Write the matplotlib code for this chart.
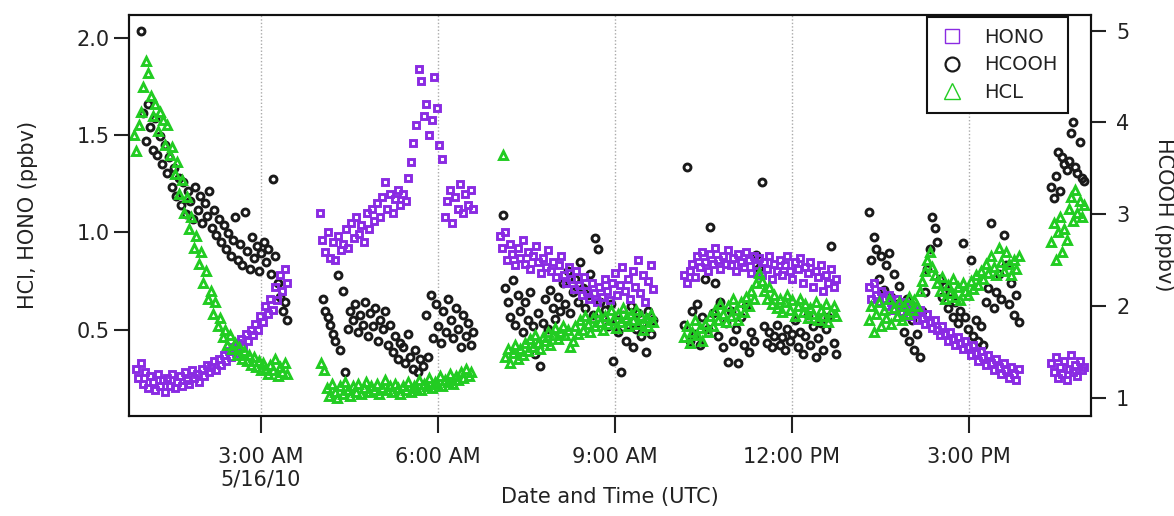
import numpy as np
import matplotlib
matplotlib.use('Agg')
import matplotlib.pyplot as plt
from matplotlib.lines import Line2D

plt.rcParams['font.family'] = ['DejaVu Sans']

# ---------------- data (hours UTC on 5/16/10) ----------------
# each series was sampled in six periods; (start, end) in hours
hono_spans = [(0.88, 3.45), (4.00, 6.60), (7.05, 9.65), (10.18, 12.75), (13.30, 15.85), (16.40, 16.95)]
hcooh_spans = [(0.97, 3.45), (4.05, 6.60), (7.10, 9.65), (10.18, 12.75), (13.30, 15.85), (16.40, 16.95)]
hcl_spans = [(0.85, 3.45), (4.03, 6.57), (7.10, 9.65), (10.18, 12.75), (13.30, 15.85), (16.40, 16.95)]

hono_vals = [
    [0.30, 0.25, 0.33, 0.22, 0.28, 0.20, 0.26, 0.23, 0.19, 0.27, 0.21, 0.24, 0.18, 0.25,
     0.21, 0.27, 0.20, 0.23, 0.26, 0.21, 0.28, 0.24, 0.22, 0.29, 0.25, 0.27, 0.23, 0.30,
     0.26, 0.32, 0.28, 0.31, 0.34, 0.29, 0.35, 0.32, 0.37, 0.34, 0.39, 0.36, 0.41, 0.38,
     0.43, 0.45, 0.41, 0.48, 0.44, 0.50, 0.47, 0.53, 0.50, 0.57, 0.54, 0.62, 0.58, 0.66,
     0.60, 0.72, 0.65, 0.78, 0.70, 0.81, 0.74],
    [1.10, 0.96, 0.90, 1.00, 0.87, 0.95, 0.86, 0.98, 0.91, 0.94, 1.02, 0.92, 1.05, 0.97,
     1.08, 0.99, 1.04, 0.95, 1.10, 1.02, 1.12, 1.06, 1.15, 1.08, 1.18, 1.26, 1.12, 1.20,
     1.10, 1.17, 1.22, 1.14, 1.20, 1.16, 1.28, 1.36, 1.46, 1.55, 1.84, 1.78, 1.60, 1.66,
     1.50, 1.58, 1.80, 1.64, 1.45, 1.38, 1.08, 1.16, 1.22, 1.05, 1.18, 1.12, 1.25, 1.10,
     1.20, 1.14, 1.22, 1.12],
    [0.98, 0.92, 1.00, 0.86, 0.94, 0.89, 0.83, 0.92, 0.87, 0.96, 0.84, 0.90, 0.81, 0.88,
     0.93, 0.85, 0.79, 0.87, 0.82, 0.91, 0.80, 0.85, 0.77, 0.83, 0.88, 0.78, 0.74, 0.82,
     0.76, 0.71, 0.80, 0.73, 0.68, 0.77, 0.70, 0.66, 0.74, 0.69, 0.64, 0.72, 0.67, 0.76,
     0.70, 0.65, 0.74, 0.79, 0.68, 0.73, 0.82, 0.70, 0.76, 0.66, 0.80, 0.72, 0.86, 0.69,
     0.78, 0.64, 0.75, 0.83, 0.71],
    [0.78, 0.74, 0.80, 0.84, 0.77, 0.88, 0.82, 0.90, 0.85, 0.80, 0.89, 0.84, 0.92, 0.86,
     0.81, 0.88, 0.84, 0.91, 0.83, 0.87, 0.80, 0.89, 0.85, 0.82, 0.90, 0.86, 0.79, 0.88,
     0.83, 0.87, 0.78, 0.85, 0.81, 0.88, 0.76, 0.84, 0.80, 0.86, 0.78, 0.83, 0.88, 0.80,
     0.76, 0.85, 0.81, 0.87, 0.74, 0.82, 0.79, 0.85, 0.72, 0.80, 0.77, 0.83, 0.70, 0.78,
     0.74, 0.81, 0.72, 0.76],
    [0.72, 0.66, 0.74, 0.68, 0.64, 0.70, 0.66, 0.62, 0.68, 0.64, 0.60, 0.66, 0.62, 0.59,
     0.64, 0.60, 0.57, 0.62, 0.58, 0.55, 0.60, 0.56, 0.53, 0.58, 0.54, 0.51, 0.55, 0.50,
     0.47, 0.52, 0.48, 0.44, 0.49, 0.45, 0.42, 0.46, 0.43, 0.40, 0.44, 0.41, 0.37, 0.42,
     0.38, 0.34, 0.39, 0.36, 0.32, 0.37, 0.33, 0.29, 0.35, 0.31, 0.27, 0.33, 0.29, 0.25,
     0.31, 0.27, 0.24, 0.30],
    [0.33, 0.28, 0.36, 0.25, 0.31, 0.27, 0.34, 0.24, 0.30, 0.37, 0.28, 0.32, 0.26, 0.34,
     0.29, 0.31],
]

hcooh_vals = [
    [5.00, 4.10, 3.80, 4.20, 3.95, 3.70, 4.05, 3.65, 3.85, 3.55, 3.75, 3.45, 3.62, 3.30,
     3.50, 3.20, 3.40, 3.10, 3.35, 3.00, 3.25, 3.15, 2.95, 3.30, 3.05, 3.20, 2.90, 3.12,
     2.98, 3.25, 2.85, 3.05, 2.78, 2.95, 2.70, 2.88, 2.62, 2.80, 2.55, 2.72, 2.97, 2.50,
     2.68, 2.45, 3.02, 2.60, 2.40, 2.75, 2.52, 2.65, 2.38, 2.58, 2.70, 2.48, 2.62, 2.35,
     3.38, 2.55, 2.25, 2.10, 1.95, 2.05, 1.85],
    [2.08, 1.95, 1.88, 1.80, 1.70, 1.62, 2.34, 1.52, 2.16, 1.28, 1.75, 1.95, 1.85, 2.02,
     1.72, 1.90, 1.80, 2.05, 1.68, 1.92, 1.78, 1.98, 1.62, 1.85, 1.75, 1.95, 1.58, 1.80,
     1.50, 1.68, 1.42, 1.60, 1.55, 1.38, 1.70, 1.45, 1.32, 1.52, 1.28, 1.42, 1.35, 1.90,
     1.45, 2.12, 1.65, 2.02, 1.78, 1.60, 1.95, 1.72, 2.08, 1.85, 1.65, 1.98, 1.75, 1.55,
     1.90, 1.68, 1.82, 1.58, 1.72],
    [2.99, 2.20, 2.05, 1.88, 2.28, 1.80, 2.12, 1.95, 1.72, 2.05, 1.85, 2.15, 1.78, 1.48,
     1.92, 1.35, 1.82, 2.08, 1.75, 2.18, 1.98, 1.86, 2.10, 1.95, 2.25, 2.02, 2.38, 1.92,
     2.15, 2.30, 2.05, 2.48, 2.20, 1.98, 2.12, 2.35, 1.90, 2.74, 2.62, 2.05, 1.88, 1.96,
     1.78, 2.02, 1.40, 1.85, 1.72, 1.28, 1.90, 1.62, 1.80, 2.00, 1.55, 1.75, 1.92, 1.68,
     1.82, 1.50, 1.95, 1.70, 1.85],
    [1.80, 3.52, 1.62, 1.95, 1.70, 2.02, 1.58, 1.88, 2.30, 1.75, 2.86, 1.92, 2.25, 1.68,
     2.05, 1.55, 1.82, 1.39, 1.95, 1.62, 1.75, 1.38, 1.88, 1.58, 2.00, 1.50, 1.72, 1.62,
     2.56, 2.42, 3.35, 1.78, 1.60, 1.72, 1.55, 1.68, 1.80, 1.58, 1.66, 1.52, 1.75, 1.62,
     1.70, 1.85, 1.55, 1.72, 1.48, 1.68, 1.90, 1.58, 1.78, 1.45, 1.65, 1.82, 1.52, 1.75,
     1.88, 2.65, 1.60, 1.48],
    [3.03, 2.50, 2.75, 2.62, 2.30, 2.55, 2.18, 2.45, 2.58, 2.10, 2.35, 2.02, 2.22, 1.92,
     1.72, 2.08, 1.62, 1.85, 1.52, 1.70, 1.45, 1.95, 2.15, 2.40, 2.62, 2.97, 2.85, 2.70,
     2.30, 2.10, 2.22, 1.98, 2.15, 1.88, 2.05, 1.82, 1.95, 2.69, 1.88, 1.75, 2.50, 1.68,
     1.85, 1.62, 1.78, 1.58, 2.05, 2.20, 2.91, 1.98, 2.15, 2.35, 2.08, 2.78, 2.45, 2.02,
     2.25, 1.90, 2.12, 1.83],
    [3.30, 3.18, 3.42, 3.68, 3.25, 3.62, 3.55, 3.48, 3.58, 3.89, 4.00, 3.52, 3.45, 3.79,
     3.40, 3.36],
]

hcl_vals = [
    [1.50, 1.42, 1.55, 1.62, 1.75, 1.88, 1.82, 1.70, 1.60, 1.66, 1.52, 1.62, 1.58, 1.45,
     1.55, 1.40, 1.44, 1.30, 1.36, 1.20, 1.27, 1.10, 1.18, 1.02, 1.08, 0.92, 0.98, 0.84,
     0.90, 0.74, 0.80, 0.66, 0.70, 0.58, 0.64, 0.52, 0.56, 0.46, 0.50, 0.42, 0.47, 0.40,
     0.43, 0.37, 0.41, 0.35, 0.39, 0.34, 0.37, 0.32, 0.36, 0.31, 0.34, 0.29, 0.33, 0.30,
     0.27, 0.32, 0.29, 0.35, 0.26, 0.31, 0.28, 0.33, 0.27],
    [0.33, 0.29, 0.20, 0.16, 0.22, 0.18, 0.15, 0.21, 0.17, 0.23, 0.19, 0.16, 0.21, 0.18,
     0.22, 0.17, 0.20, 0.23, 0.18, 0.21, 0.19, 0.22, 0.17, 0.20, 0.24, 0.19, 0.21, 0.18,
     0.22, 0.20, 0.17, 0.21, 0.19, 0.23, 0.18, 0.21, 0.20, 0.24, 0.19, 0.22, 0.21, 0.25,
     0.20, 0.23, 0.22, 0.26, 0.21, 0.24, 0.23, 0.27, 0.22, 0.26, 0.24, 0.28, 0.25, 0.30,
     0.26, 0.28],
    [1.40, 0.36, 0.40, 0.33, 0.38, 0.42, 0.35, 0.40, 0.37, 0.43, 0.39, 0.45, 0.41, 0.47,
     0.43, 0.40, 0.46, 0.44, 0.49, 0.42, 0.47, 0.51, 0.45, 0.49, 0.52, 0.47, 0.50, 0.41,
     0.44, 0.52, 0.48, 0.55, 0.50, 0.57, 0.53, 0.49, 0.56, 0.52, 0.59, 0.54, 0.50, 0.57,
     0.53, 0.60, 0.55, 0.51, 0.58, 0.54, 0.61, 0.56, 0.52, 0.58, 0.55, 0.60, 0.53, 0.57,
     0.50, 0.56, 0.52, 0.58, 0.54],
    [0.46, 0.52, 0.43, 0.49, 0.55, 0.47, 0.51, 0.44, 0.53, 0.49, 0.57, 0.52, 0.60, 0.55,
     0.63, 0.58, 0.54, 0.62, 0.57, 0.66, 0.60, 0.55, 0.64, 0.59, 0.67, 0.62, 0.70, 0.66,
     0.74, 0.79, 0.75, 0.70, 0.66, 0.72, 0.63, 0.68, 0.61, 0.66, 0.59, 0.64, 0.68, 0.60,
     0.65, 0.57, 0.62, 0.66, 0.59, 0.63, 0.56, 0.61, 0.58, 0.64, 0.55, 0.60, 0.57, 0.63,
     0.54, 0.59, 0.62, 0.57],
    [0.55, 0.62, 0.49, 0.58, 0.64, 0.52, 0.60, 0.56, 0.66, 0.53, 0.61, 0.57, 0.64, 0.55,
     0.62, 0.58, 0.67, 0.60, 0.65, 0.62, 0.70, 0.75, 0.80, 0.86, 0.90, 0.82, 0.78, 0.74,
     0.70, 0.77, 0.66, 0.73, 0.69, 0.76, 0.67, 0.72, 0.65, 0.74, 0.70, 0.68, 0.75, 0.71,
     0.78, 0.73, 0.80, 0.76, 0.84, 0.79, 0.88, 0.82, 0.78, 0.92, 0.85, 0.80, 0.90, 0.84,
     0.78, 0.86, 0.81, 0.88],
    [0.95, 1.05, 0.86, 1.00, 1.08, 0.90, 1.02, 0.96, 1.12, 1.18, 1.06, 1.22, 1.10, 1.16,
     1.08, 1.14],
]

tick_hours = [3, 6, 9, 12, 15]
tick_labels = ['3:00 AM\n5/16/10', '6:00 AM', '9:00 AM', '12:00 PM', '3:00 PM']
left_ticks = [0.5, 1.0, 1.5, 2.0]
right_ticks = [1, 2, 3, 4, 5]


def build(spans, vals):
    t, v = [], []
    for (a, b), seg in zip(spans, vals):
        t.append(np.linspace(a, b, len(seg)))
        v.append(np.asarray(seg, float))
    return np.concatenate(t), np.concatenate(v)


t_hono, v_hono = build(hono_spans, hono_vals)
t_hcooh, v_hcooh = build(hcooh_spans, hcooh_vals)
t_hcl, v_hcl = build(hcl_spans, hcl_vals)

PURPLE = '#8a2be2'
GREEN = '#22cc22'
BLACK = '#1a1a1a'
TXT = '#222222'

fig = plt.figure(figsize=(11.74, 5.16), dpi=100)
ax = fig.add_axes([129 / 1174, 1 - 416 / 516, (1091 - 129) / 1174, (416 - 15) / 516])
ax2 = ax.twinx()
ax.set_zorder(2)
ax2.set_zorder(1)
ax.patch.set_visible(False)
ax2.patch.set_visible(True)
ax2.patch.set_facecolor('white')

ms, mew = 5.0, 2.1
ax2.plot(t_hcooh, v_hcooh, ls='none', marker='o', ms=ms, mew=mew, mfc='none', mec=BLACK)
ax.plot(t_hono, v_hono, ls='none', marker='s', ms=ms - 0.4, mew=mew, mfc='none', mec=PURPLE)
ax.plot(t_hcl, v_hcl, ls='none', marker='^', ms=ms + 0.6, mew=mew, mfc='none', mec=GREEN)

ax.set_xlim(0.768, 17.07)
ax.set_ylim(0.056, 2.118)
ax2.set_ylim(0.804, 5.17)

ax.set_xticks(tick_hours)
ax.set_xticklabels(tick_labels)
ax.set_yticks(left_ticks)
ax.set_yticklabels([f'{v:.1f}' for v in left_ticks])
ax2.set_yticks(right_ticks)
ax2.set_yticklabels([str(v) for v in right_ticks])

for a in (ax, ax2):
    for s in a.spines.values():
        s.set_linewidth(1.5)
        s.set_color('#111111')
ax.tick_params(axis='x', length=12, width=1.5, pad=10, labelsize=15, colors=TXT)
ax.tick_params(axis='y', length=11, width=1.5, pad=3, labelsize=15, colors=TXT)
ax2.tick_params(axis='y', length=11, width=1.5, pad=7, labelsize=15, colors=TXT)

# vertical dotted grid at the x ticks (drawn on the back axes)
for h in tick_hours:
    ax2.axvline(h, color='#aaaaaa', lw=1.0, ls=(0, (1, 1.5)), zorder=0)

fig.text(28 / 1174, 1 - 215 / 516, 'HCl, HONO (ppbv)', rotation=90, ha='center', va='center',
         fontsize=15, color=TXT)
fig.text(1164 / 1174, 1 - 215 / 516, 'HCOOH (ppbv)', rotation=270, ha='center', va='center',
         fontsize=15, color=TXT)
fig.text(610 / 1174, 1 - 497 / 516, 'Date and Time (UTC)', ha='center', va='center',
         fontsize=15, color=TXT)

handles = [
    Line2D([], [], ls='none', marker='s', ms=10, mew=1.0, mfc='none', mec=PURPLE),
    Line2D([], [], ls='none', marker='o', ms=10, mew=1.6, mfc='none', mec=BLACK),
    Line2D([], [], ls='none', marker='^', ms=11, mew=1.0, mfc='none', mec=GREEN),
]
leg = ax.legend(handles, ['HONO', 'HCOOH', 'HCL'], loc='upper right',
                bbox_to_anchor=(1068 / 1174, 1 - 17 / 516), bbox_transform=fig.transFigure,
                borderaxespad=0, fancybox=False, framealpha=1, edgecolor='#111111',
                fontsize=14, handlelength=1.5, handletextpad=0.9, labelspacing=0.45,
                borderpad=0.55)
leg.get_frame().set_linewidth(1.5)
for t in leg.get_texts():
    t.set_color(TXT)

fig.savefig('out.png', dpi=100)
